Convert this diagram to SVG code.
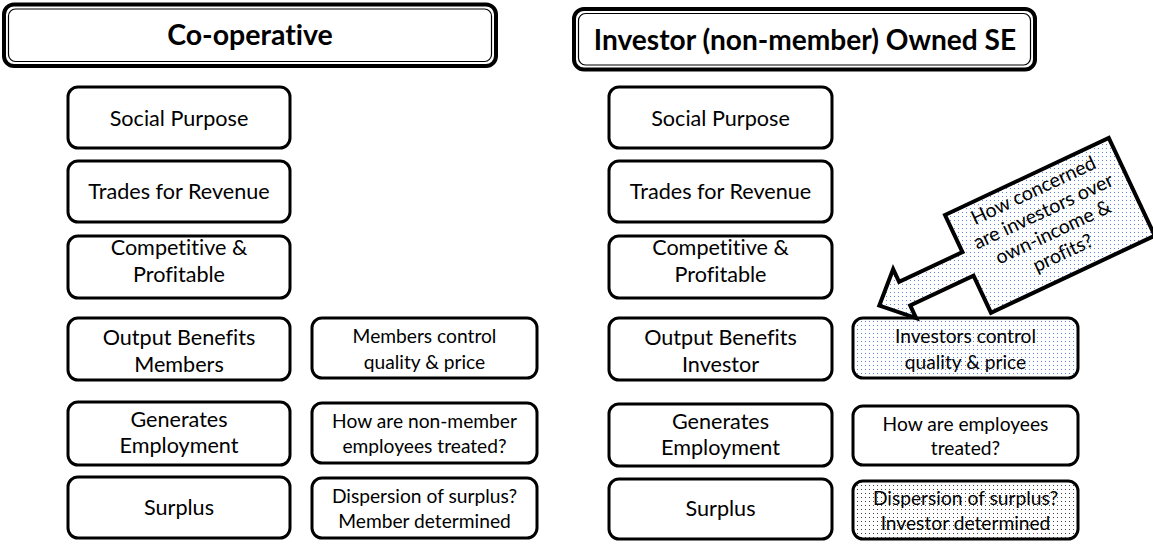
<svg xmlns="http://www.w3.org/2000/svg" width="1153" height="545" viewBox="0 0 1153 545">
  <style>
    text { font-variant-ligatures: none; }
    .box { fill: #ffffff; stroke: #000000; stroke-width: 3; }
    .frame-outer { fill: #ffffff; stroke: #000000; stroke-width: 4; }
    .frame-inner { fill: none; stroke: #000000; stroke-width: 1.2; }
    .title { font-family: Lato, "Liberation Sans", sans-serif; font-weight: bold; font-size: 28.5px; fill: #000000; text-anchor: middle; }
    .lbl { font-family: Lato, "Liberation Sans", sans-serif; font-size: 21.6px; fill: #000000; text-anchor: middle; }
    .note { font-family: Lato, "Liberation Sans", sans-serif; font-size: 19.2px; fill: #000000; text-anchor: middle; }
    .callout-text { font-family: Lato, "Liberation Sans", sans-serif; font-size: 19.5px; fill: #000000; text-anchor: middle; }
  </style>
  <defs>
    <pattern id="dotsBlue" width="4" height="4" patternUnits="userSpaceOnUse">
      <rect width="4" height="4" fill="#ffffff"/>
      <rect x="1" y="1" width="1" height="1" fill="#5b87d8"/>
    </pattern>
    <pattern id="dotsBlueRot" width="4" height="4" patternUnits="userSpaceOnUse" patternTransform="rotate(25.2)">
      <rect width="4" height="4" fill="#ffffff"/>
      <rect x="1" y="1" width="1" height="1" fill="#5b87d8"/>
    </pattern>
    <pattern id="dotsBlack" width="4" height="4" patternUnits="userSpaceOnUse">
      <rect width="4" height="4" fill="#ffffff"/>
      <rect x="1" y="1" width="1" height="1" fill="#444444"/>
    </pattern>
  </defs>

  <!-- column headings -->
  <g id="head-coop">
    <rect class="frame-outer" x="4" y="4.5" width="492" height="61.5" rx="10"/>
    <rect class="frame-inner" x="8.5" y="9" width="483" height="52.5" rx="7"/>
    <text class="title" x="250" y="45">Co-operative</text>
  </g>
  <g id="head-investor">
    <rect class="frame-outer" x="574" y="9" width="461" height="60.5" rx="10"/>
    <rect class="frame-inner" x="578.5" y="13.5" width="452" height="51.5" rx="7"/>
    <text class="title" x="805" y="50" style="font-size:28.1px">Investor (non-member) Owned SE</text>
  </g>

  <!-- co-operative column -->
  <g id="coop-social">
    <rect class="box" x="68" y="87" width="222" height="61" rx="10"/>
    <text class="lbl" x="179" y="126">Social Purpose</text>
  </g>
  <g id="coop-trades">
    <rect class="box" x="68" y="161" width="222" height="61" rx="10"/>
    <text class="lbl" x="179" y="199">Trades for Revenue</text>
  </g>
  <g id="coop-competitive">
    <rect class="box" x="68" y="236" width="222" height="62" rx="10"/>
    <text class="lbl" x="179" y="255">Competitive &amp;</text>
    <text class="lbl" x="179" y="282">Profitable</text>
  </g>
  <g id="coop-output">
    <rect class="box" x="68" y="318" width="222" height="62" rx="10"/>
    <text class="lbl" x="179" y="345">Output Benefits</text>
    <text class="lbl" x="179" y="372">Members</text>
  </g>
  <g id="coop-employment">
    <rect class="box" x="68" y="402" width="222" height="63" rx="10"/>
    <text class="lbl" x="179" y="427">Generates</text>
    <text class="lbl" x="179" y="453">Employment</text>
  </g>
  <g id="coop-surplus">
    <rect class="box" x="68" y="477" width="222" height="61" rx="10"/>
    <text class="lbl" x="179" y="515">Surplus</text>
  </g>
  <g id="coop-control">
    <rect class="box" x="312" y="318" width="225" height="60" rx="10"/>
    <text class="note" x="424.5" y="343">Members control</text>
    <text class="note" x="424.5" y="369">quality &amp; price</text>
  </g>
  <g id="coop-staff">
    <rect class="box" x="312" y="403" width="225" height="60" rx="10"/>
    <text class="note" x="424.5" y="428">How are non-member</text>
    <text class="note" x="424.5" y="453">employees treated?</text>
  </g>
  <g id="coop-dispersion">
    <rect class="box" x="312" y="478" width="225" height="60" rx="10"/>
    <text class="note" x="424.5" y="503">Dispersion of surplus?</text>
    <text class="note" x="424.5" y="528">Member determined</text>
  </g>

  <!-- investor-owned column -->
  <g id="inv-social">
    <rect class="box" x="609" y="87" width="223" height="61" rx="10"/>
    <text class="lbl" x="720.5" y="126">Social Purpose</text>
  </g>
  <g id="inv-trades">
    <rect class="box" x="609" y="161" width="223" height="61" rx="10"/>
    <text class="lbl" x="720.5" y="199">Trades for Revenue</text>
  </g>
  <g id="inv-competitive">
    <rect class="box" x="609" y="236" width="223" height="62" rx="10"/>
    <text class="lbl" x="720.5" y="255">Competitive &amp;</text>
    <text class="lbl" x="720.5" y="282">Profitable</text>
  </g>
  <g id="inv-output">
    <rect class="box" x="609" y="318" width="223" height="62" rx="10"/>
    <text class="lbl" x="720.5" y="345">Output Benefits</text>
    <text class="lbl" x="720.5" y="372">Investor</text>
  </g>
  <g id="inv-employment">
    <rect class="box" x="609" y="404" width="223" height="62" rx="10"/>
    <text class="lbl" x="720.5" y="429">Generates</text>
    <text class="lbl" x="720.5" y="455">Employment</text>
  </g>
  <g id="inv-surplus">
    <rect class="box" x="609" y="479" width="223" height="60" rx="10"/>
    <text class="lbl" x="720.5" y="516">Surplus</text>
  </g>
  <g id="inv-control">
    <rect class="box" x="853" y="318" width="225" height="60" rx="10" style="fill:url(#dotsBlue)"/>
    <text class="note" x="965.5" y="343">Investors control</text>
    <text class="note" x="965.5" y="369">quality &amp; price</text>
  </g>
  <g id="inv-staff">
    <rect class="box" x="853" y="406" width="225" height="59" rx="10"/>
    <text class="note" x="965.5" y="431">How are employees</text>
    <text class="note" x="965.5" y="455">treated?</text>
  </g>
  <g id="inv-dispersion">
    <rect class="box" x="853" y="481" width="225" height="58" rx="10" style="fill:url(#dotsBlack)"/>
    <text class="note" x="965.5" y="505">Dispersion of surplus?</text>
    <text class="note" x="965.5" y="530">Investor determined</text>
  </g>

  <!-- callout arrow pointing at the investor control box -->
  <g id="callout" transform="translate(945 215) rotate(-25.2)">
    <polygon points="0,0 181,0 181,108 0,108 0,67 -70,67 -70,81 -98,54 -70,27 -70,41 0,41"
             fill="url(#dotsBlueRot)" stroke="#000000" stroke-width="4" stroke-linejoin="miter"/>
    <text class="callout-text" x="90.5" y="22">How concerned</text>
    <text class="callout-text" x="90.5" y="45">are investors over</text>
    <text class="callout-text" x="90.5" y="68">own-income &amp;</text>
    <text class="callout-text" x="90.5" y="91">profits?</text>
  </g>

  <g id="connectors"/>
</svg>
